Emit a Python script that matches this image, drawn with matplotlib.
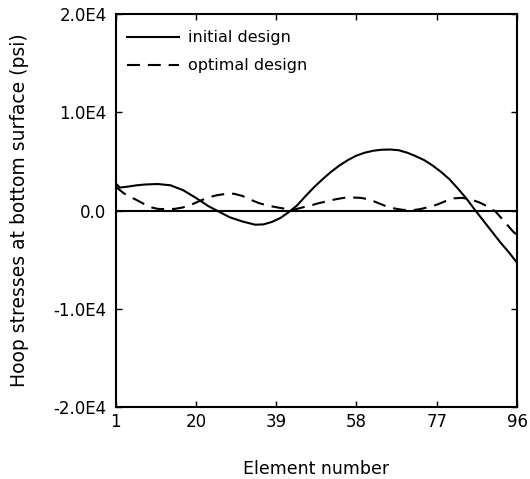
import matplotlib
matplotlib.use("Agg")
import matplotlib.pyplot as plt

# element numbers and hoop stresses (psi)
elem_initial = [1, 2, 4, 6, 8, 11, 14, 17, 20, 23, 25, 28, 31, 34, 36, 38,
                40, 42, 44, 46, 48, 50, 52, 54, 56, 58, 60, 62, 64, 66, 68,
                70, 72, 74, 76, 78, 80, 82, 84, 86, 88, 90, 92, 94, 96]
stress_initial = [2800, 2350, 2450, 2580, 2660, 2710, 2580, 2080, 1300, 450,
                  0, -670, -1100, -1430, -1400, -1150, -750, -150, 550, 1500,
                  2400, 3200, 3950, 4600, 5150, 5600, 5900, 6100, 6200, 6220,
                  6150, 5900, 5550, 5150, 4600, 3950, 3200, 2250, 1250, 100,
                  -1000, -2100, -3200, -4200, -5300]

elem_optimal = [1, 3, 5, 7, 9, 11, 13, 15, 17, 19, 21, 23, 25, 27, 29, 31,
                33, 35, 37, 39, 41, 43, 45, 47, 49, 51, 53, 55, 57, 59, 61,
                63, 65, 67, 69, 71, 73, 75, 77, 79, 81, 83, 85, 87, 89, 91,
                93, 95, 96]
stress_optimal = [2450, 1750, 1300, 850, 380, 180, 150, 180, 330, 620, 1000,
                  1350, 1570, 1700, 1720, 1500, 1100, 760, 520, 350, 200, 80,
                  300, 500, 750, 950, 1150, 1300, 1340, 1300, 1150, 800, 450,
                  220, 80, 30, 150, 350, 600, 950, 1250, 1300, 1150, 850, 450,
                  -130, -1100, -2100, -2500]

x_ticks = [1, 20, 39, 58, 77, 96]
y_ticks = [-2.0e4, -1.0e4, 0.0, 1.0e4, 2.0e4]
y_tick_labels = ["-2.0E4", "-1.0E4", "0.0", "1.0E4", "2.0E4"]

plt.rcParams["font.family"] = ["DejaVu Sans"]

fig = plt.figure(figsize=(5.30, 4.79), dpi=100)
ax = fig.add_axes([0.218, 0.150, 0.7575, 0.8205])

ax.plot(elem_initial, stress_initial, color="black", linewidth=1.5,
        label="initial design")
ax.plot(elem_optimal, stress_optimal, color="black", linewidth=1.5,
        dashes=(6.2, 3.8), label="optimal design")
ax.axhline(0, color="black", linewidth=1.5)

ax.set_xlim(1, 96)
ax.set_ylim(-2.0e4, 2.0e4)
ax.set_xticks(x_ticks)
ax.set_xticklabels([str(t) for t in x_ticks])
ax.set_yticks(y_ticks)
ax.set_yticklabels(y_tick_labels)

ax.tick_params(direction="in", length=4, width=1, top=True, right=True,
               labelsize=12)
ax.tick_params(axis="x", pad=4)
ax.tick_params(axis="y", pad=6.5)
for side in ax.spines.values():
    side.set_linewidth(1.5)

ax.set_xlabel("Element number", fontsize=12.5, va="top")
ax.xaxis.set_label_coords(0.5, -0.135)
ax.set_ylabel("Hoop stresses at bottom surface (psi)", fontsize=13.5)
ax.yaxis.set_label_coords(-0.2154, 0.5)

ax.legend(loc="upper left", bbox_to_anchor=(0.0127, 0.9756), frameon=False,
          fontsize=11.5, handlelength=3.25, handletextpad=0.56,
          labelspacing=0.83, borderaxespad=0)

fig.savefig("out.png", dpi=100)
plt.close(fig)
